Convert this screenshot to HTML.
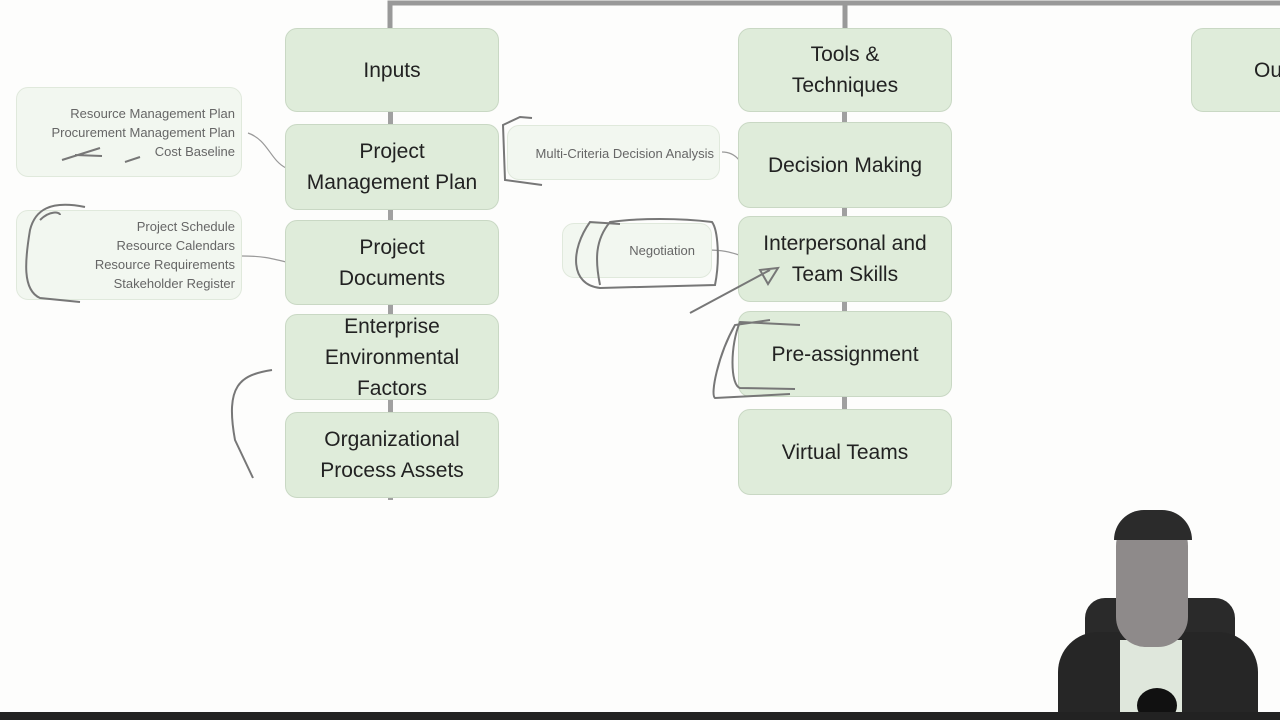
<!DOCTYPE html>
<html><head><meta charset="utf-8"><style>
html,body{margin:0;padding:0;background:#fdfdfc;width:1280px;height:720px;overflow:hidden;position:relative;font-family:"Liberation Sans",sans-serif}
.b{position:absolute;background:#dfecda;border:1px solid #c9d8c4;border-radius:12px;display:flex;align-items:center;justify-content:center;text-align:center;font-size:21px;line-height:31px;color:#222}
.c{position:absolute;background:#f2f7f0;border:1px solid #e0e9dc;border-radius:12px;font-size:13px;line-height:19px;color:#666;text-align:right;box-sizing:border-box}
</style></head><body>
<svg width="1280" height="720" style="position:absolute;left:0;top:0">
<path d="M390 28 V3 H1280 M845 3 V28" stroke="#999" stroke-width="5" fill="none"/>
<rect x="388" y="100" width="5" height="400" fill="#a0a0a0"/>
<rect x="842" y="100" width="5" height="320" fill="#a0a0a0"/>
<g stroke="#999" fill="none" stroke-width="1.2">
<path d="M286 168 C270 160 268 140 248 133"/>
<path d="M286 262 C270 258 262 256 242 256"/>
<path d="M739 160 C735 155 730 152 722 152"/>
<path d="M739 255 C730 252 722 250 708 250"/>
</g>
</svg>
<div class="b" style="left:285px;top:28px;width:212px;height:82px">Inputs</div>
<div class="b" style="left:285px;top:124px;width:212px;height:84px">Project<br>Management Plan</div>
<div class="b" style="left:285px;top:220px;width:212px;height:83px">Project<br>Documents</div>
<div class="b" style="left:285px;top:314px;width:212px;height:84px">Enterprise<br>Environmental<br>Factors</div>
<div class="b" style="left:285px;top:412px;width:212px;height:84px">Organizational<br>Process Assets</div>
<div class="b" style="left:738px;top:28px;width:212px;height:82px">Tools &amp;<br>Techniques</div>
<div class="b" style="left:738px;top:122px;width:212px;height:84px">Decision Making</div>
<div class="b" style="left:738px;top:216px;width:212px;height:84px">Interpersonal and<br>Team Skills</div>
<div class="b" style="left:738px;top:311px;width:212px;height:84px">Pre-assignment</div>
<div class="b" style="left:738px;top:409px;width:212px;height:84px">Virtual Teams</div>
<div class="b" style="left:1191px;top:28px;width:120px;height:84px;justify-content:flex-start;padding-left:62px;box-sizing:border-box">Ou</div>
<div class="c" style="left:16px;top:87px;width:226px;height:90px;padding:16px 6px 0 0">Resource Management Plan<br>Procurement Management Plan<br>Cost Baseline</div>
<div class="c" style="left:16px;top:210px;width:226px;height:90px;padding:6px 6px 0 0">Project Schedule<br>Resource Calendars<br>Resource Requirements<br>Stakeholder Register</div>
<div class="c" style="left:507px;top:125px;width:213px;height:55px;padding:18px 5px 0 0">Multi-Criteria Decision Analysis</div>
<div class="c" style="left:562px;top:223px;width:150px;height:55px;padding:17px 16px 0 0">Negotiation</div>
<svg width="1280" height="720" style="position:absolute;left:0;top:0">
<g stroke="#777" fill="none" stroke-width="2">
<path d="M85 207 C50 200 35 210 30 230 C25 260 22 290 40 298 L80 302"/>
<path d="M40 220 C50 210 60 212 60 215"/>
<path d="M542 185 L505 180 L503 125 L520 117 L532 118"/>
<path d="M620 224 L590 222 C570 250 570 285 600 288 L715 285 C720 260 718 230 712 222 C680 218 640 218 610 222 C595 240 595 260 600 285"/>
<path d="M690 313 L770 270 M760 270 L778 268 L768 284 Z"/>
<path d="M800 325 L740 322 C730 345 730 385 740 388 L795 389 M770 320 L735 325 C718 355 710 395 715 398 L790 394"/>
<path d="M272 370 C240 375 225 385 235 440 L253 478"/>
<path d="M62 160 L100 148 M75 155 L102 156 M125 162 L140 157"/>
</g>
</svg>
<div style="position:absolute;left:1085px;top:598px;width:150px;height:120px;background:#2a2a2a;border-radius:20px 20px 0 0"></div>
<div style="position:absolute;left:1058px;top:632px;width:200px;height:90px;background:#262626;border-radius:40px 40px 0 0"></div>
<div style="position:absolute;left:1120px;top:640px;width:62px;height:80px;background:#dfe7dc"></div>
<div style="position:absolute;left:1116px;top:512px;width:72px;height:135px;background:#8e8a8a;border-radius:34px 34px 30px 30px"></div>
<div style="position:absolute;left:1114px;top:510px;width:78px;height:30px;background:#2b2b2b;border-radius:38px 38px 0 0"></div>
<div style="position:absolute;left:1137px;top:688px;width:40px;height:35px;background:#111;border-radius:50%"></div>
<div style="position:absolute;left:0;top:712px;width:1280px;height:8px;background:#222"></div>
</body></html>
